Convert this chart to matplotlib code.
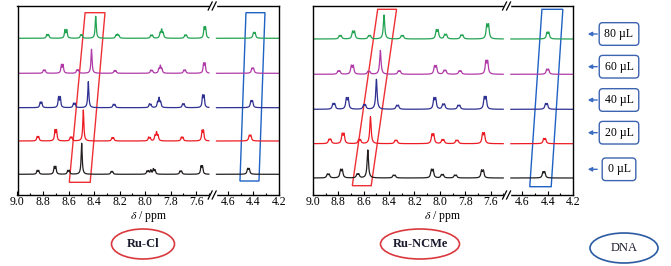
import numpy as np
import matplotlib
matplotlib.use('Agg')
import matplotlib.pyplot as plt
from matplotlib.patches import Polygon, Ellipse, FancyArrowPatch, Rectangle
from matplotlib.lines import Line2D

plt.rcParams['font.family'] = ['Liberation Serif', 'DejaVu Serif']
plt.rcParams['mathtext.fontset'] = 'stix'

# DNA added, bottom trace first
amounts = ['0 µL', '20 µL', '40 µL', '60 µL', '80 µL']
colors = ['#231f20', '#ed1c24', '#2e3192', '#b03aa8', '#22a352']

# peak lists: (ppm, height)
rucl_0 = [(8.846, 3.5), (8.834, 3.5), (8.712, 7), (8.700, 7), (8.606, 3.5), (8.594, 3.5),
          (8.497, 31), (8.266, 2.5), (8.255, 2.5), (7.985, 3), (7.972, 3), (7.955, 4),
          (7.935, 5), (7.922, 4), (7.726, 3), (7.714, 3), (7.561, 7.5), (7.550, 7.5),
          (4.446, 5), (4.434, 5)]
rucl_20 = [(8.846, 4), (8.834, 4), (8.706, 10), (8.694, 10), (8.586, 3.5), (8.574, 3.5),
           (8.484, 31), (8.259, 3), (8.247, 3), (7.972, 3.5), (7.960, 3), (7.922, 5),
           (7.910, 8), (7.898, 5), (7.716, 3.5), (7.704, 3.5), (7.553, 9.5), (7.542, 9.5),
           (4.433, 5), (4.421, 5)]
rucl_40 = [(8.822, 5), (8.810, 5), (8.678, 10), (8.665, 10), (8.561, 4), (8.549, 4),
           (8.445, 26), (8.249, 3), (8.237, 3), (7.966, 3.5), (7.954, 3), (7.902, 5),
           (7.890, 9), (7.878, 5), (7.706, 3.5), (7.694, 3.5), (7.549, 11), (7.538, 11),
           (4.420, 6), (4.408, 6)]
rucl_60 = [(8.796, 3), (8.784, 3), (8.656, 8), (8.643, 8), (8.535, 3), (8.524, 3),
           (8.420, 24), (8.241, 2.5), (8.229, 2.5), (7.955, 3), (7.943, 2.5), (7.892, 4),
           (7.880, 7), (7.868, 4), (7.696, 3), (7.684, 3), (7.541, 9), (7.530, 9),
           (4.412, 4.5), (4.400, 4.5)]
rucl_80 = [(8.770, 3.5), (8.757, 3.5), (8.628, 8), (8.614, 8), (8.505, 3), (8.495, 3),
           (8.387, 22), (8.228, 3), (8.216, 3.5), (8.205, 2.5), (7.955, 3), (7.942, 3),
           (7.882, 5), (7.870, 8), (7.858, 5), (7.688, 3), (7.676, 3), (7.537, 10),
           (7.526, 10), (4.400, 5), (4.388, 5)]

ncme_0 = [(8.887, 3.5), (8.873, 3.5), (8.783, 7.5), (8.769, 7.5), (8.653, 3.5), (8.639, 3.5),
          (8.568, 28), (8.367, 2.5), (8.353, 2.5), (8.067, 7.5), (8.053, 7.5), (7.987, 3),
          (7.973, 3), (7.884, 2.5), (7.870, 2.5), (7.671, 7), (7.657, 7), (4.437, 5.5),
          (4.423, 5.5)]
ncme_20 = [(8.874, 4), (8.860, 4), (8.770, 9), (8.756, 9), (8.640, 3.5), (8.626, 3.5),
           (8.547, 27), (8.353, 3), (8.339, 3), (8.062, 8.5), (8.048, 8.5), (7.983, 3.5),
           (7.969, 3.5), (7.872, 3), (7.858, 3), (7.663, 9.5), (7.649, 9.5), (4.431, 4.5),
           (4.417, 4.5)]
ncme_40 = [(8.843, 5), (8.829, 5), (8.737, 10), (8.723, 10), (8.601, 4), (8.587, 4),
           (8.500, 30), (8.341, 3.5), (8.327, 3.5), (8.047, 10), (8.033, 10), (7.977, 4.5),
           (7.963, 4.5), (7.857, 3.5), (7.843, 3.5), (7.650, 11), (7.636, 11), (4.417, 5),
           (4.403, 5)]
ncme_60 = [(8.803, 3), (8.789, 3), (8.698, 8), (8.683, 8), (8.567, 2.5), (8.553, 2.5),
           (8.469, 24), (8.327, 3), (8.313, 3), (8.042, 7.5), (8.028, 7.5), (7.967, 3.5),
           (7.953, 3.5), (7.847, 3), (7.833, 3), (7.637, 12), (7.623, 12), (4.407, 4.5),
           (4.393, 4.5)]
ncme_80 = [(8.792, 3), (8.778, 3), (8.688, 7), (8.673, 7), (8.562, 3), (8.548, 3),
           (8.440, 24), (8.303, 3), (8.289, 3), (8.028, 8), (8.014, 8), (7.962, 4),
           (7.948, 4), (7.833, 3.5), (7.819, 3.5), (7.630, 13), (7.616, 13), (4.405, 6),
           (4.391, 6)]

rucl_offsets = [20.7, 54, 87.3, 121.7, 156.7]
ncme_offsets = [17, 51.3, 85.7, 120.7, 156]

# highlighted regions (ppm, y)
rucl_red_box = [(8.594, 12.7), (8.43, 12.7), (8.314, 182.3), (8.47, 182.3)]
rucl_blue_box = [(4.506, 14), (4.357, 14), (4.31, 182.3), (4.459, 182.3)]
ncme_red_box = [(8.69, 9.3), (8.541, 9.3), (8.341, 185.7), (8.49, 185.7)]
ncme_blue_box = [(4.541, 8.3), (4.372, 8.3), (4.28, 185.7), (4.445, 185.7)]

major_a = [9.0, 8.8, 8.6, 8.4, 8.2, 8.0, 7.8, 7.6]
minor_a = [8.9, 8.7, 8.5, 8.3, 8.1, 7.9, 7.7, 7.5]
major_b = [4.6, 4.4, 4.2]
minor_b = [4.5, 4.3]

W, H = 671, 266
fig = plt.figure(figsize=(W / 100, H / 100), dpi=100)


def lorentz(x, peaks, hw):
    y = np.zeros_like(x)
    for pos, h in peaks:
        y += h * hw ** 2 / ((x - pos) ** 2 + hw ** 2)
    return y


def draw_panel(left_px, right_px, traces, offsets, red_box, blue_box, hw_a, hw_b):
    span_a = 9.0 - 7.47
    span_b = 4.72 - 4.20
    total = right_px - left_px
    wa = total * span_a / (span_a + span_b)
    bottom = 1 - 195 / H
    height = 189 / H
    ax1 = fig.add_axes([left_px / W, bottom, wa / W, height])
    ax2 = fig.add_axes([(left_px + wa) / W, bottom, (total - wa) / W, height])
    ax1.set_xlim(9.0, 7.47)
    ax2.set_xlim(4.72, 4.20)
    xa = np.linspace(9.0, 7.50, 4000)
    xb = np.linspace(4.69, 4.20, 1500)
    for peaks, off, c in zip(traces, offsets, colors):
        ax1.plot(xa, off + lorentz(xa, peaks, hw_a), color=c, lw=0.9)
        ax2.plot(xb, off + lorentz(xb, peaks, hw_b), color=c, lw=0.9)
    for ax in (ax1, ax2):
        ax.set_ylim(0, 189)
        ax.set_yticks([])
        for s in ax.spines.values():
            s.set_linewidth(1.0)
        ax.tick_params(axis='x', which='both', direction='in', labelsize=8.5, pad=1, width=0.8)
        ax.tick_params(axis='x', which='major', length=3)
        ax.tick_params(axis='x', which='minor', length=1.8)
    ax1.spines['right'].set_visible(False)
    ax2.spines['left'].set_visible(False)
    ax1.set_xticks(major_a)
    ax1.set_xticklabels(['%.1f' % t for t in major_a])
    ax1.set_xticks(minor_a, minor=True)
    ax2.set_xticks(major_b)
    ax2.set_xticklabels(['%.1f' % t for t in major_b])
    ax2.set_xticks(minor_b, minor=True)

    ax1.add_patch(Polygon(red_box, closed=True, fill=False, edgecolor='#ee3035', lw=1.0))
    ax2.add_patch(Polygon(blue_box, closed=True, fill=False, edgecolor='#1f62c4', lw=1.0))

    # break marks on top and bottom
    bx = left_px + wa
    for by in (6, 195):
        fig.add_artist(Rectangle(((bx - 3) / W, 1 - (by + 1) / H), 6 / W, 2 / H,
                                 transform=fig.transFigure, color='white', zorder=5))
        for dx in (-2.5, 1.5):
            fig.add_artist(Line2D([(bx + dx - 2) / W, (bx + dx + 2) / W],
                                  [1 - (by + 4) / H, 1 - (by - 4) / H],
                                  transform=fig.transFigure, color='black', lw=0.9, zorder=6))
    fig.text((left_px + right_px) / 2 / W, 1 - 216 / H, r'$\delta$ / ppm',
             ha='center', va='center', fontsize=8.5)


draw_panel(17.5, 279, [rucl_0, rucl_20, rucl_40, rucl_60, rucl_80], rucl_offsets,
           rucl_red_box, rucl_blue_box, 0.005, 0.006)
draw_panel(313, 573, [ncme_0, ncme_20, ncme_40, ncme_60, ncme_80], ncme_offsets,
           ncme_red_box, ncme_blue_box, 0.0065, 0.0065)

# DNA amount tags
tag_y = [169.3, 132.7, 100, 66.7, 34]
for lab, ty in zip(amounts, tag_y):
    fig.text(619 / W, 1 - ty / H, lab, ha='center', va='center', fontsize=8.5,
             bbox=dict(boxstyle='round,pad=0.45,rounding_size=0.3', fc='white',
                       ec='#3d64b0', lw=1.0))
    fig.add_artist(FancyArrowPatch((600 / W, 1 - ty / H), (585 / W, 1 - ty / H),
                                   transform=fig.transFigure, arrowstyle='-|>',
                                   mutation_scale=6, color='#3b6cc2', lw=1.0))

# compound / DNA ellipses
for cx, cy, ew, txt, ec, wt in [(143, 244, 63, 'Ru-Cl', '#d9393f', 'bold'),
                                (420, 244, 79, 'Ru-NCMe', '#d9393f', 'bold'),
                                (624, 248, 68, 'DNA', '#2c5aa0', 'normal')]:
    fig.add_artist(Ellipse((cx / W, 1 - cy / H), ew / W, 30 / H, transform=fig.transFigure,
                           fill=False, edgecolor=ec, lw=1.2))
    fig.text(cx / W, 1 - cy / H, txt, ha='center', va='center', fontsize=9, fontweight=wt,
             color='#1a1a2e')

fig.savefig('out.png', dpi=100)
